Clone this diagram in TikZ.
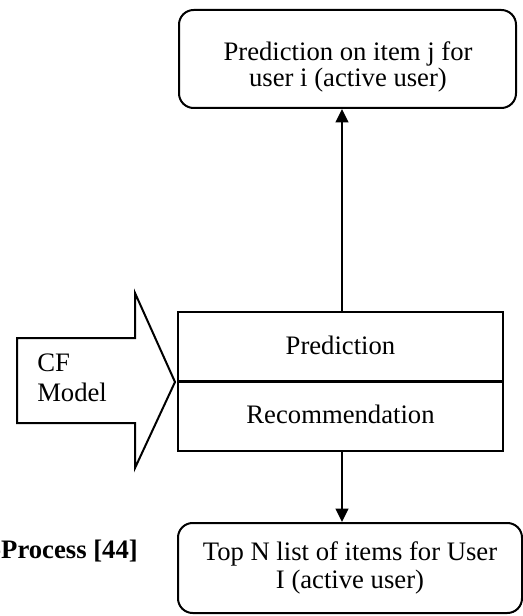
\documentclass[tikz,border=0pt]{standalone}
\usepackage{fontspec}
\setmainfont{Liberation Serif}
\usetikzlibrary{arrows.meta}
\usetikzlibrary{positioning}
\def\px{0.75pt}
\tikzset{
  >={Triangle[length=10pt,width=9.5pt]},
  box/.style={draw,line width=1.5pt,rounded corners=11pt,align=center,inner sep=0pt},
  stage/.style={draw,line width=1.5pt,minimum width=325*\px,minimum height=70*\px,
    inner sep=0pt,outer sep=0pt},
  connect arrow/.style={->,line width=1.5pt}
}

\begin{document}
\begin{tikzpicture}[x=\px,y=-\px,font=\fontsize{20}{24}\selectfont]
	\useasboundingbox (0,0) rectangle (522,616);

	\node[box,minimum width=337*\px,minimum height=98*\px] (pred out) at (347.5,59) {};
	\node[align=center,font=\fontsize{20}{18}\selectfont] (pred out text) at (348,67)
		{Prediction on item j for\\user i (active user)};

	\node[stage] (pred) at (340.5,347) {\raisebox{3pt}{Prediction}};
	\node[stage, below=-0.75pt of pred] (rec) {\raisebox{2pt}{Recommendation}};

	\node[box,minimum width=344*\px,minimum height=90*\px,font=\fontsize{20}{21.5}\selectfont]
		(top list) at (350,568) {Top N list of items for User\\I (active user)};

	\draw[connect arrow] (pred.north -| 342,0) -- (pred out.south -| 342,0);
	\draw[connect arrow] (rec.south -| 342,0) -- (top list.north -| 342,0);

	% CF model block arrow
	\draw[line width=1.5pt,line join=miter] (17,338) -- (135,338) -- (135,293) -- (175,382)
		-- (135,468) -- (135,423) -- (17,423) -- cycle;
	\node[anchor=west,align=left,inner sep=0pt,font=\fontsize{20}{22.5}\selectfont]
		(cf) at (37,378) {CF\\Model};

	\node[anchor=base east,inner sep=0pt,font=\bfseries\fontsize{20}{24}\selectfont]
		(caption) at (138,558) {-Process [44]};
\end{tikzpicture}
\end{document}
